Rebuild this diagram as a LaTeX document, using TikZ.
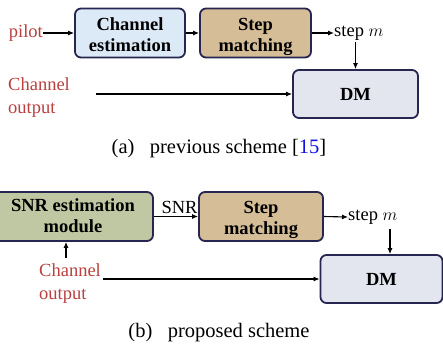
\documentclass[tikz,border=0pt]{standalone}
\usepackage{fontspec}
\setmainfont{Liberation Serif}
\usetikzlibrary{arrows.meta}
\definecolor{bord}{HTML}{262650}
\definecolor{cblue}{HTML}{DCE9F7}
\definecolor{ctan}{HTML}{D5BD97}
\definecolor{cgreen}{HTML}{BFC8A2}
\definecolor{cdm}{HTML}{E3E5EF}
\definecolor{cred}{HTML}{B84040}
\definecolor{cref}{HTML}{1010E0}
\begin{document}
\begin{tikzpicture}[x=1pt,y=-1pt,
  every node/.style={font=\fontsize{18.5}{21}\selectfont, inner sep=0pt},
  box/.style={draw=bord, line width=1.8pt, rounded corners=6pt, align=center, font=\fontsize{18.5}{21}\selectfont\bfseries},
  lbl/.style={text=cred, align=left, font=\fontsize{18.5}{23}\selectfont},
  captxt/.style={font=\fontsize{20.5}{24}\selectfont},
  arr/.style={line width=1.1pt, -{Latex[length=6pt,width=5pt]}}]
\useasboundingbox (0,0) rectangle (443,346);
\clip (0,0) rectangle (443,346);
% panel (a)
\node[box, fill=cblue, minimum width=110pt, minimum height=48pt] (ce) at (130,33) {\rule{0pt}{21.7pt}Channel\\\strut estimation};
\node[box, fill=ctan, minimum width=111pt, minimum height=48pt] (sma) at (255.5,33) {\rule{0pt}{21.7pt}Step\\\strut matching};
\node[box, fill=cdm, minimum width=125pt, minimum height=48pt] (dma) at (355.5,94) {DM};
\node[text=cred, anchor=east] (pilot) at (43,33) {pilot};
\node[anchor=west] (stepa) at (334,33) {step $m$};
\node[lbl, anchor=west] (coa) at (8,98) {Channel\\output};
\coordinate (coastart) at (96,94);
\coordinate (stepadown) at (355.5,42);
\draw[arr] (pilot.east) -- (ce.west);
\draw[arr] (ce.east) -- (sma.west);
\draw[arr] (sma.east) -- (stepa.west);
\draw[arr] (stepadown) -- (dma.north);
\draw[arr] (coastart) -- (dma.west);
\node[captxt] (capa) at (219,149) {(a)\ \ \ previous scheme [\textcolor{cref}{15}]};
% panel (b)
\node[box, fill=cgreen, minimum width=160pt, minimum height=49pt] (snr) at (73,216.5) {\rule{0pt}{18pt}SNR estimation\\\strut module};
\node[box, fill=ctan, minimum width=124pt, minimum height=49pt] (smb) at (261,216.5) {\rule{0pt}{20.3pt}Step\\\strut matching};
\node[box, fill=cdm, minimum width=122pt, minimum height=48pt] (dmb) at (381.5,279) {DM};
\node (snrl) at (179.5,207) {SNR};
\node[anchor=west] (stepb) at (348,217) {step $m$};
\node[lbl, anchor=west] (cob) at (39,284) {Channel\\output};
\coordinate (cobstart) at (103,279);
\coordinate (cobup) at (66,258);
\coordinate (stepbdown) at (390,229);
\draw[arr] (snr.east) -- (smb.west);
\draw[arr] (smb.east) -- (stepb.west);
\draw[arr] (stepbdown) -- (stepbdown |- dmb.north);
\draw[arr] (cobup) -- (cobup |- snr.south);
\draw[arr] (cobstart) -- (dmb.west);
\node[captxt] (capb) at (219,333) {(b)\ \ \ proposed scheme};
\end{tikzpicture}
\end{document}
